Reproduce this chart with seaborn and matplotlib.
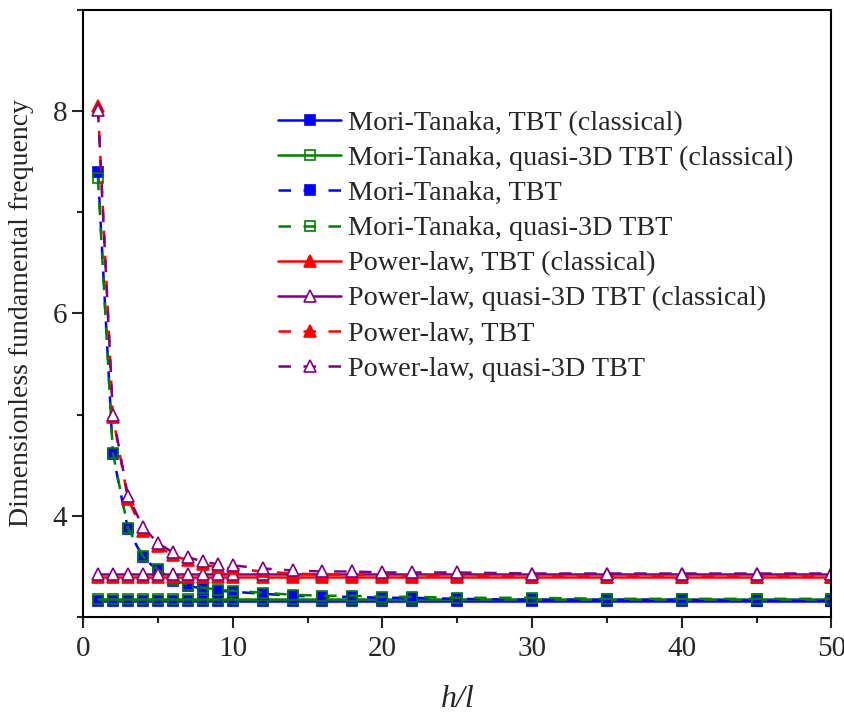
import matplotlib

matplotlib.use("Agg")
import matplotlib.pyplot as plt
import seaborn as sns
from matplotlib.ticker import MultipleLocator

# h/l sample points
h_over_l = [1, 2, 3, 4, 5, 6, 7, 8, 9, 10, 12, 14, 16, 18, 20, 22,
            25, 30, 35, 40, 45, 50]

# classical (size-independent) curves
mt_tbt_cl = [3.16, 3.16, 3.16, 3.16, 3.16, 3.16, 3.16, 3.16, 3.16, 3.16,
             3.16, 3.16, 3.16, 3.16, 3.16, 3.16, 3.16, 3.16, 3.16, 3.16,
             3.16, 3.16]
mt_q3d_cl = [3.18, 3.18, 3.18, 3.18, 3.18, 3.18, 3.18, 3.18, 3.18, 3.18,
             3.18, 3.18, 3.18, 3.18, 3.18, 3.18, 3.18, 3.18, 3.18, 3.18,
             3.18, 3.18]
pl_tbt_cl = [3.40, 3.40, 3.40, 3.40, 3.40, 3.40, 3.40, 3.40, 3.40, 3.40,
             3.40, 3.40, 3.40, 3.40, 3.40, 3.40, 3.40, 3.40, 3.40, 3.40,
             3.40, 3.40]
pl_q3d_cl = [3.43, 3.43, 3.43, 3.43, 3.43, 3.43, 3.43, 3.43, 3.43, 3.43,
             3.43, 3.43, 3.43, 3.43, 3.43, 3.43, 3.43, 3.43, 3.43, 3.43,
             3.43, 3.43]

# size-dependent curves
mt_tbt = [7.40, 4.61, 3.87, 3.59, 3.46, 3.36, 3.31, 3.28, 3.26, 3.25,
          3.23, 3.21, 3.20, 3.20, 3.19, 3.19, 3.18, 3.17, 3.17, 3.17,
          3.16, 3.16]
mt_q3d = [7.34, 4.62, 3.88, 3.60, 3.47, 3.37, 3.32, 3.29, 3.27, 3.26,
          3.24, 3.22, 3.21, 3.21, 3.20, 3.20, 3.19, 3.19, 3.18, 3.18,
          3.18, 3.18]
pl_tbt = [8.05, 4.98, 4.17, 3.85, 3.70, 3.61, 3.56, 3.52, 3.49, 3.48,
          3.45, 3.43, 3.42, 3.42, 3.41, 3.41, 3.41, 3.40, 3.40, 3.40,
          3.40, 3.40]
pl_q3d = [8.01, 5.00, 4.20, 3.89, 3.73, 3.64, 3.59, 3.55, 3.52, 3.51,
          3.48, 3.46, 3.45, 3.45, 3.44, 3.44, 3.44, 3.43, 3.43, 3.43,
          3.43, 3.43]

labels = [
    "Mori-Tanaka, TBT (classical)",
    "Mori-Tanaka, quasi-3D TBT (classical)",
    "Mori-Tanaka, TBT",
    "Mori-Tanaka, quasi-3D TBT",
    "Power-law, TBT (classical)",
    "Power-law, quasi-3D TBT (classical)",
    "Power-law, TBT",
    "Power-law, quasi-3D TBT",
]

BLUE, GREEN, RED, PURPLE = "#0000ff", "#008000", "#ff0000", "#800080"
DASH = (0, (5, 5))

# (values, colour, marker, face, linestyle)
series = [
    (mt_tbt_cl, BLUE, "s", BLUE, "-"),
    (mt_q3d_cl, GREEN, "s", "none", "-"),
    (mt_tbt, BLUE, "s", BLUE, DASH),
    (mt_q3d, GREEN, "s", "none", DASH),
    (pl_tbt_cl, RED, "^", RED, "-"),
    (pl_q3d_cl, PURPLE, "^", "white", "-"),
    (pl_tbt, RED, "^", RED, DASH),
    (pl_q3d, PURPLE, "^", "white", DASH),
]

sns.set_style("ticks")
plt.rcParams["font.family"] = ["Liberation Serif", "DejaVu Serif"]

fig = plt.figure(figsize=(8.45, 7.13), dpi=100)
ax = fig.add_axes([0.0982, 0.1346, 0.8858, 0.8518])

for (vals, col, mk, face, ls), lab in zip(series, labels):
    ms = 6.5 if mk == "s" else 8.5
    sns.lineplot(x=h_over_l, y=vals, ax=ax, color=col, marker=mk,
                 markersize=ms, markerfacecolor=face, markeredgecolor=col,
                 markeredgewidth=1.2, linestyle=ls, linewidth=1.8,
                 label=lab, sort=False, estimator=None)

ax.set_xlim(0, 50)
ax.set_ylim(3, 9)
ax.xaxis.set_major_locator(MultipleLocator(10))
ax.xaxis.set_minor_locator(MultipleLocator(5))
ax.yaxis.set_minor_locator(MultipleLocator(1))
ax.set_yticks([4, 6, 8])
ax.tick_params(which="major", direction="out", length=8, width=1.5,
               labelsize=21, top=False, right=False)
ax.tick_params(axis="x", which="major", pad=6)
ax.tick_params(which="minor", direction="out", length=4, width=1.5,
               top=False, right=False)
for sp in ax.spines.values():
    sp.set_linewidth(1.5)
    sp.set_color("black")

ax.set_xlabel("h/l", fontsize=23, style="italic", labelpad=16)
ax.set_ylabel("Dimensionless fundamental frequency", fontsize=20)
ax.yaxis.set_label_coords(-0.066, 0.5)

ax.legend(loc="upper left", bbox_to_anchor=(0.261, 0.834), frameon=False,
          fontsize=20.3, handlelength=2.22, handletextpad=0.25,
          labelspacing=0.33, borderpad=0, borderaxespad=0, numpoints=1)

fig.savefig("out.png", dpi=100)
